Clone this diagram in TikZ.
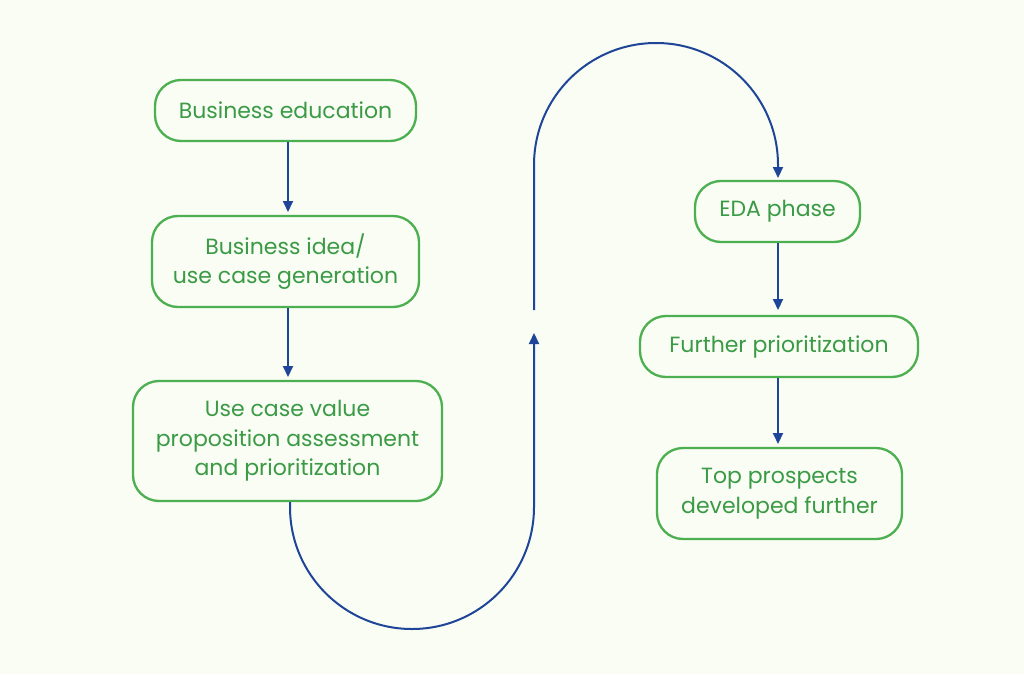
\documentclass[tikz,border=0pt]{standalone}
\usepackage{fontspec}
\setmainfont{Poppins}
\usetikzlibrary{arrows.meta}
\definecolor{bg}{HTML}{FAFDF4}
\definecolor{gr}{HTML}{4CAF50}
\definecolor{tx}{HTML}{3A9A45}
\definecolor{bl}{HTML}{1E4597}
\begin{document}
\begin{tikzpicture}[x=1pt,y=-1pt,
 box/.style={draw=gr,line width=2.3pt,rounded corners=26pt,text=tx,font=\fontsize{22}{29.5}\selectfont,align=center,inner sep=0pt},
 arr/.style={draw=bl,line width=2pt,-{Triangle[length=11pt,width=10pt]}}]
\fill[bg] (0,0) rectangle (1024,674);
\useasboundingbox (0,0) rectangle (1024,674);
\node[box,minimum width=261pt,minimum height=61pt] (a) at (285.5,110.5) {Business education};
\node[box,minimum width=267pt,minimum height=91pt] (b) at (285.5,261.5) {Business idea/\\use case generation};
\node[box,minimum width=309pt,minimum height=120pt] (c) at (287.5,441) {Use case value\\proposition assessment\\and prioritization};
\node[box,minimum width=165pt,minimum height=61pt] (d) at (777.5,211.5) {EDA phase};
\node[box,minimum width=278pt,minimum height=61pt] (e) at (779,346.5) {Further prioritization};
\node[box,minimum width=245pt,minimum height=91pt] (f) at (779.5,493.5) {Top prospects\\developed further};
\coordinate (p1) at (534,333);
\coordinate (p2) at (534,310);
\coordinate (p3) at (778,178);
\draw[arr] (a.south -| 288,0) -- (288,212);
\draw[arr] (b.south -| 288,0) -- (288,377);
\draw[arr] (c.south -| 290,0) -- (290,507) arc[start angle=180,end angle=0,radius=122] -- (p1);
\draw[arr] (p2) -- (534,165) arc[start angle=180,end angle=360,radius=122] -- (p3);
\draw[arr] (d.south -| 778,0) -- (778,310);
\draw[arr] (e.south -| 778,0) -- (778,444);
\end{tikzpicture}
\end{document}
